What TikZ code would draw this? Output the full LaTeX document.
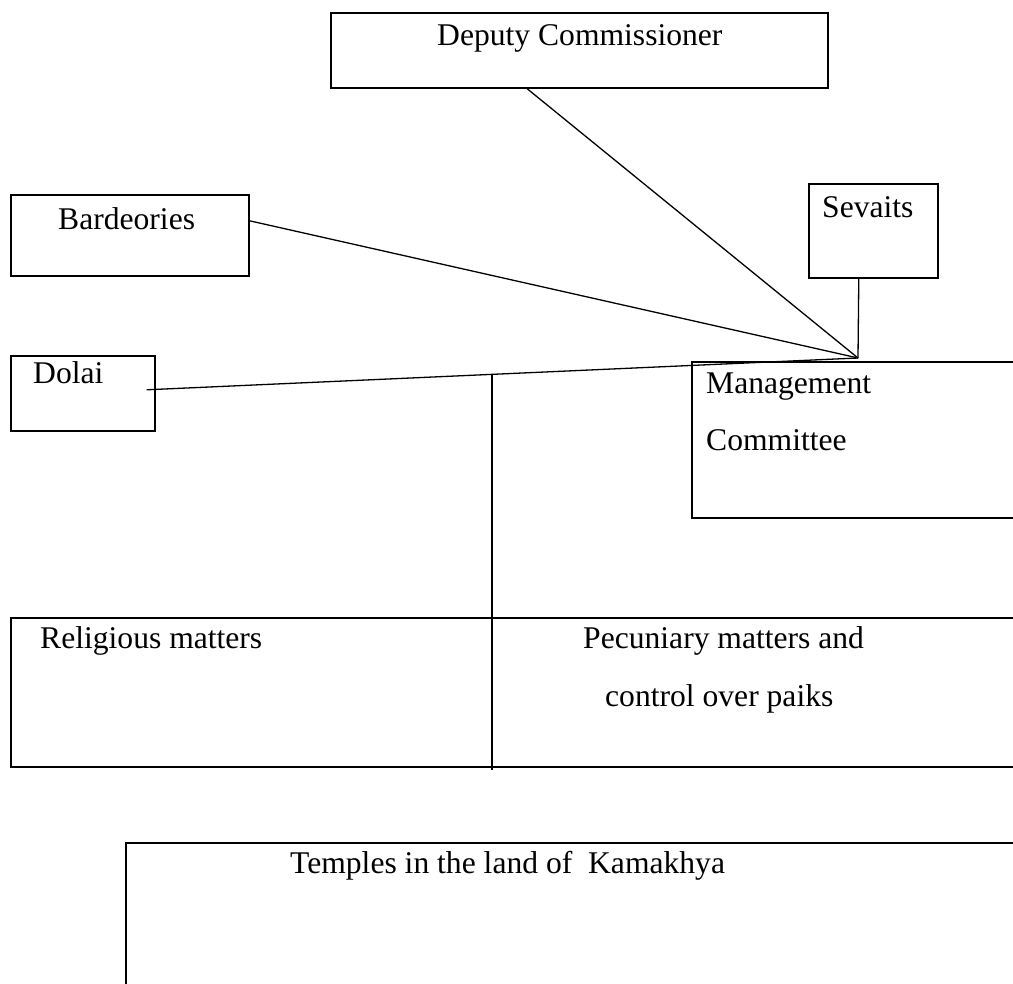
\documentclass[tikz,border=0pt]{standalone}
\usepackage{fontspec}
\setmainfont{Liberation Serif}
\usetikzlibrary{positioning, calc}

\tikzset{
  box/.style={draw, line width=1.6pt, rectangle, anchor=north west, inner sep=0pt},
  txt/.style={anchor=base west, inner sep=0pt, font=\fontsize{31.6}{38}\selectfont},
  link/.style={line width=1.3pt}
}

\begin{document}
\begin{tikzpicture}[x=1pt, y=-1pt]

    \useasboundingbox (0,0) rectangle (1013,984);
    \clip (0,0) rectangle (1013,984);

    % Boxes
    \node[box, minimum width=497pt, minimum height=75pt] (dc) at (330,12) {};
    \node[box, minimum width=238pt, minimum height=81pt] (bard) at (10,194) {};
    \node[box, minimum width=129pt, minimum height=94pt] (sev) at (808,183) {};
    \node[box, minimum width=144pt, minimum height=75pt] (dolai) at (10,355) {};
    \node[box, minimum width=340pt, minimum height=156pt] (mc) at (691,361) {};
    \node[box, minimum width=1020pt, minimum height=149pt] (matters) at (10,617) {};
    \node[box, minimum width=905pt, minimum height=160pt] (temples) at (125,842) {};

    % Texts
    \node[txt] (dctext) at (437,45.5) {Deputy Commissioner};
    \node[txt] (bardtext) at (58,229.5) {Bardeories};
    \node[txt] (sevtext) at (822,217.5) {Sevaits};
    \node[txt] (dolaitext) at (33,383.5) {Dolai};
    \node[txt] (mctext) at (706,393.5) {Management};
    \node[txt] (mctexttwo) at (706,450.5) {Committee};
    \node[txt] (reltext) at (40,648.5) {Religious matters};
    \node[txt] (pectext) at (583,648.5) {Pecuniary matters and};
    \node[txt] (pectexttwo) at (605,706.5) {control over paiks};
    \node[txt] (templetext) at (290,873.5) {Temples in the land of\ \ Kamakhya};

    % Connectors
    \coordinate (hub) at (858,358);
    \coordinate (split) at (492,374);
    \coordinate (splitend) at (492,770);

    \draw[link] ($(dc.south west)+(197,0)$) -- (hub);
    \draw[link] ($(bard.east)+(0,-14.5)$) -- (hub);
    \draw[link] ($(sev.south)+(-14.5,0)$) -- (hub);
    \draw[link] ($(dolai.east)+(-9,-3.5)$) -- (hub);
    \draw[link] (split) -- (splitend);

\end{tikzpicture}
\end{document}
